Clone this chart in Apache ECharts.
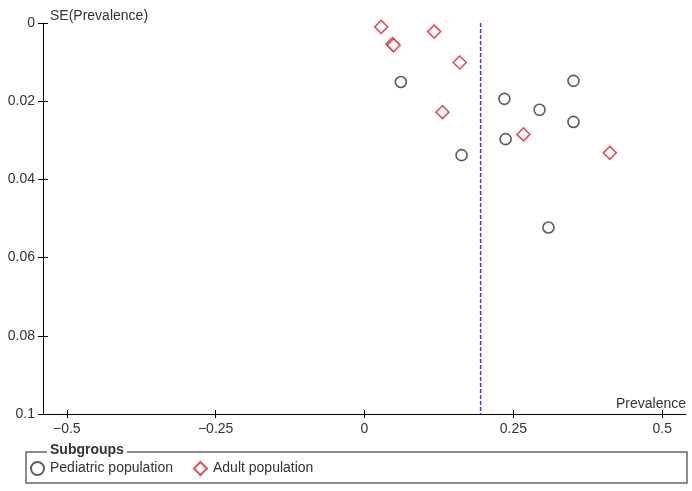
<!DOCTYPE html>
<html>
<head>
<meta charset="utf-8">
<script src="https://cdn.jsdelivr.net/npm/echarts@6/dist/echarts.min.js"></script>
<style>
  html, body { margin: 0; padding: 0; background: #fff; }
  #main { width: 692px; height: 491px; }
</style>
</head>
<body>
<div id="main"></div>
<script>
/* funnel plot: prevalence vs SE */
var seriesNames = ['Pediatric population', 'Adult population'];
// [prevalence, SE]
var pediatric = [
  [0.061, 0.0151], [0.235, 0.0194], [0.294, 0.0222], [0.351, 0.0148],
  [0.351, 0.0253], [0.237, 0.0297], [0.163, 0.0338], [0.309, 0.0523]
];
var adult = [
  [0.028, 0.0010], [0.047, 0.0054], [0.049, 0.0057], [0.117, 0.0022],
  [0.160, 0.0101], [0.131, 0.0228], [0.267, 0.0285], [0.412, 0.0332]
];
var pooled = 0.195;
var seRange = [0, 0.1];
var xTicks = [-0.5, -0.25, 0, 0.25, 0.5];

(function(){
  var myChart = echarts.init(document.getElementById('main'));
  var font = 'Liberation Sans, Arial, sans-serif';
  var txt = '#333';

  var option = {
    backgroundColor: '#fff',
    animation: false,
    textStyle: { fontFamily: font },
    grid: { left: 43, right: 6, top: 23, bottom: 77, containLabel: false, outerBoundsMode: 'none' },
    xAxis: [
      {
        type: 'value', min: -0.54, max: 0.54, position: 'bottom',
        name: 'Prevalence', nameLocation: 'end', nameGap: 0,
        nameTextStyle: { color: txt, fontSize: 14, fontFamily: font, align: 'right', verticalAlign: 'bottom', padding: [0, 0, 3, 0] },
        axisLine: { onZero: false, lineStyle: { color: '#000', width: 1 } },
        axisTick: { show: true, length: 4, customValues: xTicks, lineStyle: { color: '#000' } },
        axisLabel: {
          customValues: xTicks, color: txt, fontSize: 14, margin: 8,
          formatter: function (v) { return String(v).replace('-', '\u2212'); }
        },
        splitLine: { show: false }
      },
      {
        type: 'value', min: -0.54, max: 0.54, position: 'bottom', offset: 0,
        axisLine: { show: false, onZero: false },
        axisTick: { show: true, inside: true, length: 4, customValues: xTicks, lineStyle: { color: '#000' } },
        axisLabel: { show: false },
        splitLine: { show: false }
      }
    ],
    yAxis: [
      {
        type: 'value', min: 0, max: 0.1, interval: 0.02, inverse: true, position: 'left',
        name: 'SE(Prevalence)', nameLocation: 'start', nameGap: 0,
        nameTextStyle: { color: txt, fontSize: 14, fontFamily: font, align: 'left', verticalAlign: 'bottom', padding: [0, 0, 0, 7] },
        axisLine: { show: true, onZero: false, lineStyle: { color: '#000', width: 1 } },
        axisTick: { show: true, length: 5, lineStyle: { color: '#000' } },
        axisLabel: { color: txt, fontSize: 14, margin: 8 },
        splitLine: { show: false }
      },
      {
        type: 'value', min: 0, max: 0.1, interval: 0.02, inverse: true, position: 'left', offset: 0,
        axisLine: { show: false, onZero: false },
        axisTick: { show: true, inside: true, length: 5, lineStyle: { color: '#000' } },
        axisLabel: { show: false },
        splitLine: { show: false }
      }
    ],
    legend: {
      data: seriesNames,
      left: 25, top: 456,
      itemWidth: 13, itemHeight: 13, itemGap: 20,
      textStyle: { color: txt, fontSize: 14, fontFamily: font, padding: [0, 0, 0, 1] }
    },
    graphic: [
      {
        type: 'rect', left: 23.5, top: 449.5, z: 0,
        shape: { width: 661, height: 31 },
        style: { fill: 'none', stroke: '#666', lineWidth: 1.5 }
      },
      {
        type: 'text', left: 47, top: 443, z: 1,
        style: {
          text: 'Subgroups', fill: txt, font: 'bold 14px ' + font,
          backgroundColor: '#fff', padding: [0, 3, 0, 3]
        }
      }
    ],
    series: [
      {
        name: 'pooled', type: 'line', silent: true,
        data: [[pooled, seRange[0]], [pooled, seRange[1]]],
        symbol: 'none',
        lineStyle: { color: '#3b3bea', type: [4, 2], width: 1.5 },
        z: 1
      },
      {
        name: seriesNames[0], type: 'scatter', data: pediatric,
        symbol: 'circle', symbolSize: 11, z: 3,
        itemStyle: { color: '#fff', borderColor: '#333', borderWidth: 1.6 }
      },
      {
        name: seriesNames[1], type: 'scatter', data: adult,
        symbol: 'diamond', symbolSize: 13, z: 3,
        itemStyle: { color: '#fff', borderColor: '#d9262b', borderWidth: 1.6 }
      }
    ]
  };
  myChart.setOption(option);
})();
</script>
</body>
</html>
